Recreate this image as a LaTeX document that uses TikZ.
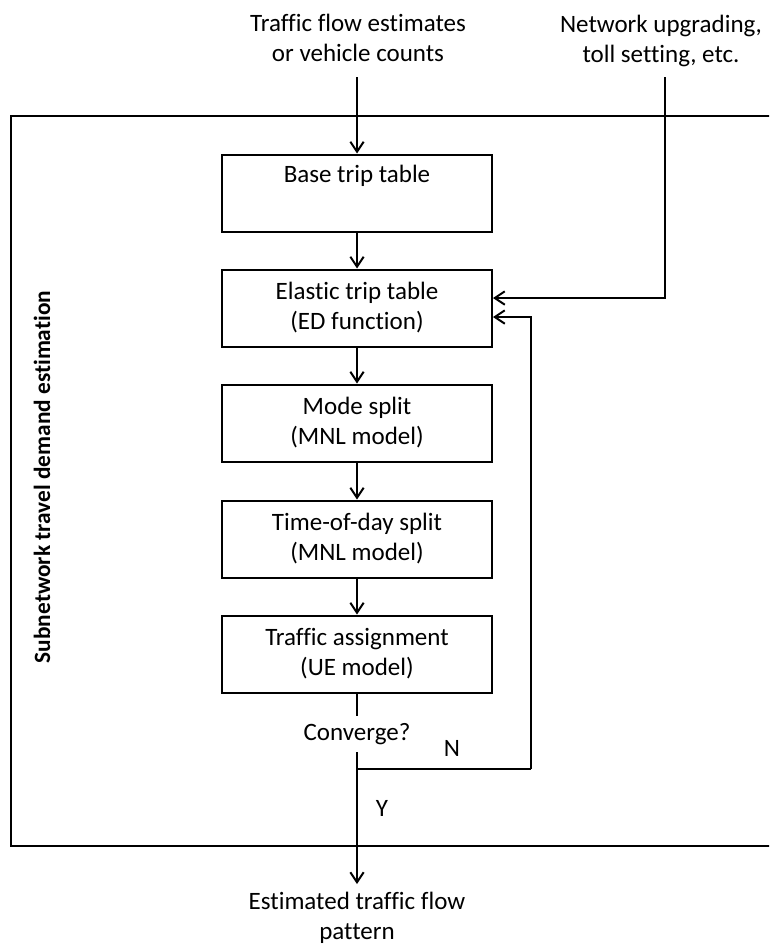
\documentclass[tikz,border=0pt]{standalone}
\usepackage{fontspec}
\setmainfont{Carlito}[Ligatures={NoCommon,TeX}]
\usetikzlibrary{arrows.meta}
\begin{document}
\begin{tikzpicture}[x=0.75pt,y=-0.75pt,
  every node/.style={font=\fontsize{18.75}{22.5}\selectfont},
  box/.style={draw, line width=1.5pt, minimum width=202.5pt, minimum height=57.75pt, align=center, inner sep=0pt},
  txt/.style={align=center, inner sep=0pt},
  conn/.style={line width=1.5pt},
  arr/.style={conn, -{Straight Barb[length=7.5pt,width=10pt]}},
  framebox/.style={line width=1.7pt}]
\clip (0,0) rectangle (769,950);
% frame
\draw[framebox] (775,116) -- (11,116) -- (11,846) -- (775,846);
\node[rotate=90, inner sep=0pt, font=\fontsize{17.5}{21}\selectfont\bfseries] (side) at (42,477) {Subnetwork travel demand estimation};
% inputs
\node[txt] (t1) at (358,38) {Traffic flow estimates\\or vehicle counts};
\node[txt] (t2) at (661,41) {Network upgrading,\\toll setting, etc.};
\coordinate (s1) at (357,77);
\coordinate (s2) at (665,77);
% boxes
\node[box] (b1) at (357,193) {Base trip table\\\strut};
\node[box] (b2) at (357,308) {Elastic trip table\\(ED function)};
\node[box] (b3) at (357,423) {Mode split\\(MNL model)};
\node[box] (b4) at (357,539) {Time-of-day split\\(MNL model)};
\node[box] (b5) at (357,654) {Traffic assignment\\(UE model)};
\node[txt, minimum height=27pt] (conv) at (357,734) {Converge?};
\coordinate (j) at (357,769);
\coordinate (fb) at (531,769);
\node[txt] (out) at (357,918) {Estimated traffic flow\\pattern};
\node[inner sep=0pt] (lY) at (382,808) {Y};
\node[inner sep=0pt] (lN) at (452,748) {N};
% connectors
\draw[arr] (s1) -- (b1);
\draw[arr] (b1) -- (b2);
\draw[arr] (b2) -- (b3);
\draw[arr] (b3) -- (b4);
\draw[arr] (b4) -- (b5);
\draw[arr] (s2) |- ([yshift=7.5pt]b2.east);
\draw[arr] (fb) |- ([yshift=-6.75pt]b2.east);
\draw[conn] (b5) -- (conv);
\draw[conn] (conv) -- (j) -- (fb);
\draw[arr] (j) -- ([yshift=6pt]out.north);
\end{tikzpicture}
\end{document}
